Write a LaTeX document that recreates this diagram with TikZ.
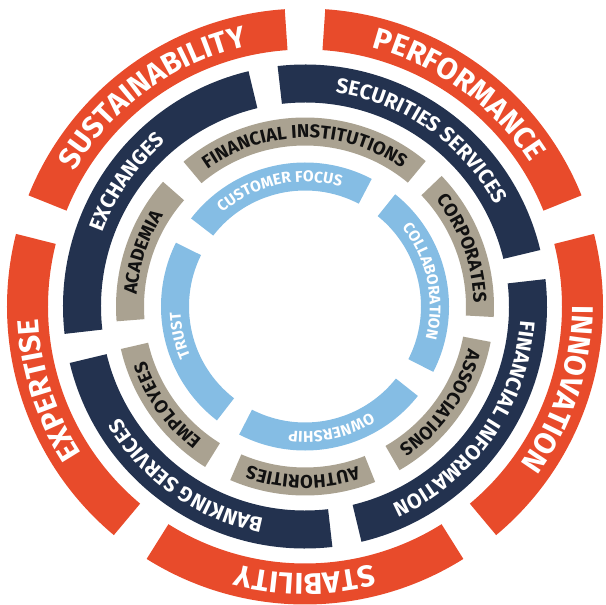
\documentclass[tikz,border=0pt]{standalone}
\usepackage{fontspec}
\usetikzlibrary{decorations.text}
\newfontfamily\ringfont{Fira Sans}
\definecolor{ringred}{HTML}{E84B2B}
\definecolor{ringnavy}{HTML}{23324F}
\definecolor{ringtan}{HTML}{AAA291}
\definecolor{ringblue}{HTML}{85BDE4}
\definecolor{tantext}{HTML}{111111}
\newcommand\redtxt{\ringfont\bfseries\fontsize{30}{30}\selectfont}
\newcommand\navytxt{\ringfont\bfseries\fontsize{21}{21}\selectfont}
\newcommand\tantxt{\ringfont\bfseries\fontsize{18.5}{18.5}\selectfont}
\newcommand\bluetxt{\ringfont\bfseries\fontsize{15.5}{15.5}\selectfont}
% #1 colour, #2 start angle, #3 end angle, #4 outer radius, #5 inner radius
\newcommand\ringseg[5]{\fill[#1] (#2:#4pt) arc[start angle=#2, end angle=#3, radius=#4pt] -- (#3:#5pt) arc[start angle=#3, end angle=#2, radius=#5pt] -- cycle;}
% #1 start, #2 end, #3 baseline radius, #4 colour, #5 format, #6 text
\newcommand\ringtext[6]{\path[decorate, decoration={text along path, text align=center, text color=#4, text={|#5|#6}}] (#1:#3pt) arc[start angle=#1, end angle=#2, radius=#3pt];}
\begin{document}
\begin{tikzpicture}[x=1pt,y=1pt]
\useasboundingbox (-305,-298.5) rectangle (300,306.5);
% outer red ring
\ringseg{ringred}{158.1}{93.9}{298}{257}
\ringseg{ringred}{86.1}{21.9}{298}{257}
\ringseg{ringred}{14.1}{-50.1}{298}{257}
\ringseg{ringred}{-57.9}{-122.1}{298}{257}
\ringseg{ringred}{-129.9}{-194.1}{298}{257}
\ringtext{158.1}{93.9}{267}{white}{\redtxt}{SUSTAINABILITY}
\ringtext{86.1}{21.9}{267}{white}{\redtxt}{PERFORMANCE}
\ringtext{14.1}{-50.1}{267}{white}{\redtxt}{INNOVATION}
\ringtext{-57.9}{-122.1}{267}{white}{\redtxt}{STABILITY}
\ringtext{-129.9}{-194.1}{267}{white}{\redtxt}{EXPERTISE}
% navy ring
\ringseg{ringnavy}{186.5}{103.5}{242}{204}
\ringseg{ringnavy}{96.5}{13.5}{242}{204}
\ringseg{ringnavy}{6.5}{-76.5}{242}{204}
\ringseg{ringnavy}{-83.5}{-166.5}{242}{204}
\ringtext{186.5}{103.5}{215.8}{white}{\navytxt}{EXCHANGES}
\ringtext{96.5}{13.5}{215.8}{white}{\navytxt}{SECURITIES SERVICES}
\ringtext{6.5}{-76.5}{215.8}{white}{\navytxt}{FINANCIAL INFORMATION}
\ringtext{-83.5}{-166.5}{215.8}{white}{\navytxt}{BANKING SERVICES}
% tan ring
\ringseg{ringtan}{130}{50.3}{189}{161}
\ringseg{ringtan}{43.7}{-3.2}{189}{161}
\ringseg{ringtan}{-10.8}{-60}{189}{161}
\ringseg{ringtan}{-68.2}{-113.3}{189}{161}
\ringseg{ringtan}{-121.9}{-167}{189}{161}
\ringseg{ringtan}{184.5}{138.7}{189}{161}
\ringtext{130}{50.3}{168.6}{tantext}{\tantxt}{FINANCIAL INSTITUTIONS}
\ringtext{43.7}{-3.2}{168.6}{tantext}{\tantxt}{CORPORATES}
\ringtext{-10.8}{-60}{168.6}{tantext}{\tantxt}{ASSOCIATIONS}
\ringtext{-68.2}{-113.3}{168.6}{tantext}{\tantxt}{AUTHORITIES}
\ringtext{-121.9}{-167}{168.6}{tantext}{\tantxt}{EMPLOYEES}
\ringtext{184.5}{138.7}{168.6}{tantext}{\tantxt}{ACADEMIA}
% blue ring
\ringseg{ringblue}{142.3}{62.4}{144}{116}
\ringseg{ringblue}{51.2}{-27}{144}{116}
\ringseg{ringblue}{-38.4}{-117.2}{144}{116}
\ringseg{ringblue}{-127.7}{-206.3}{144}{116}
\ringtext{142.3}{62.4}{124.7}{white}{\bluetxt}{CUSTOMER FOCUS}
\ringtext{51.2}{-27}{124.7}{white}{\bluetxt}{COLLABORATION}
\ringtext{-38.4}{-117.2}{124.7}{white}{\bluetxt}{OWNERSHIP}
\ringtext{-127.7}{-206.3}{124.7}{white}{\bluetxt}{TRUST}
\end{tikzpicture}
\end{document}
